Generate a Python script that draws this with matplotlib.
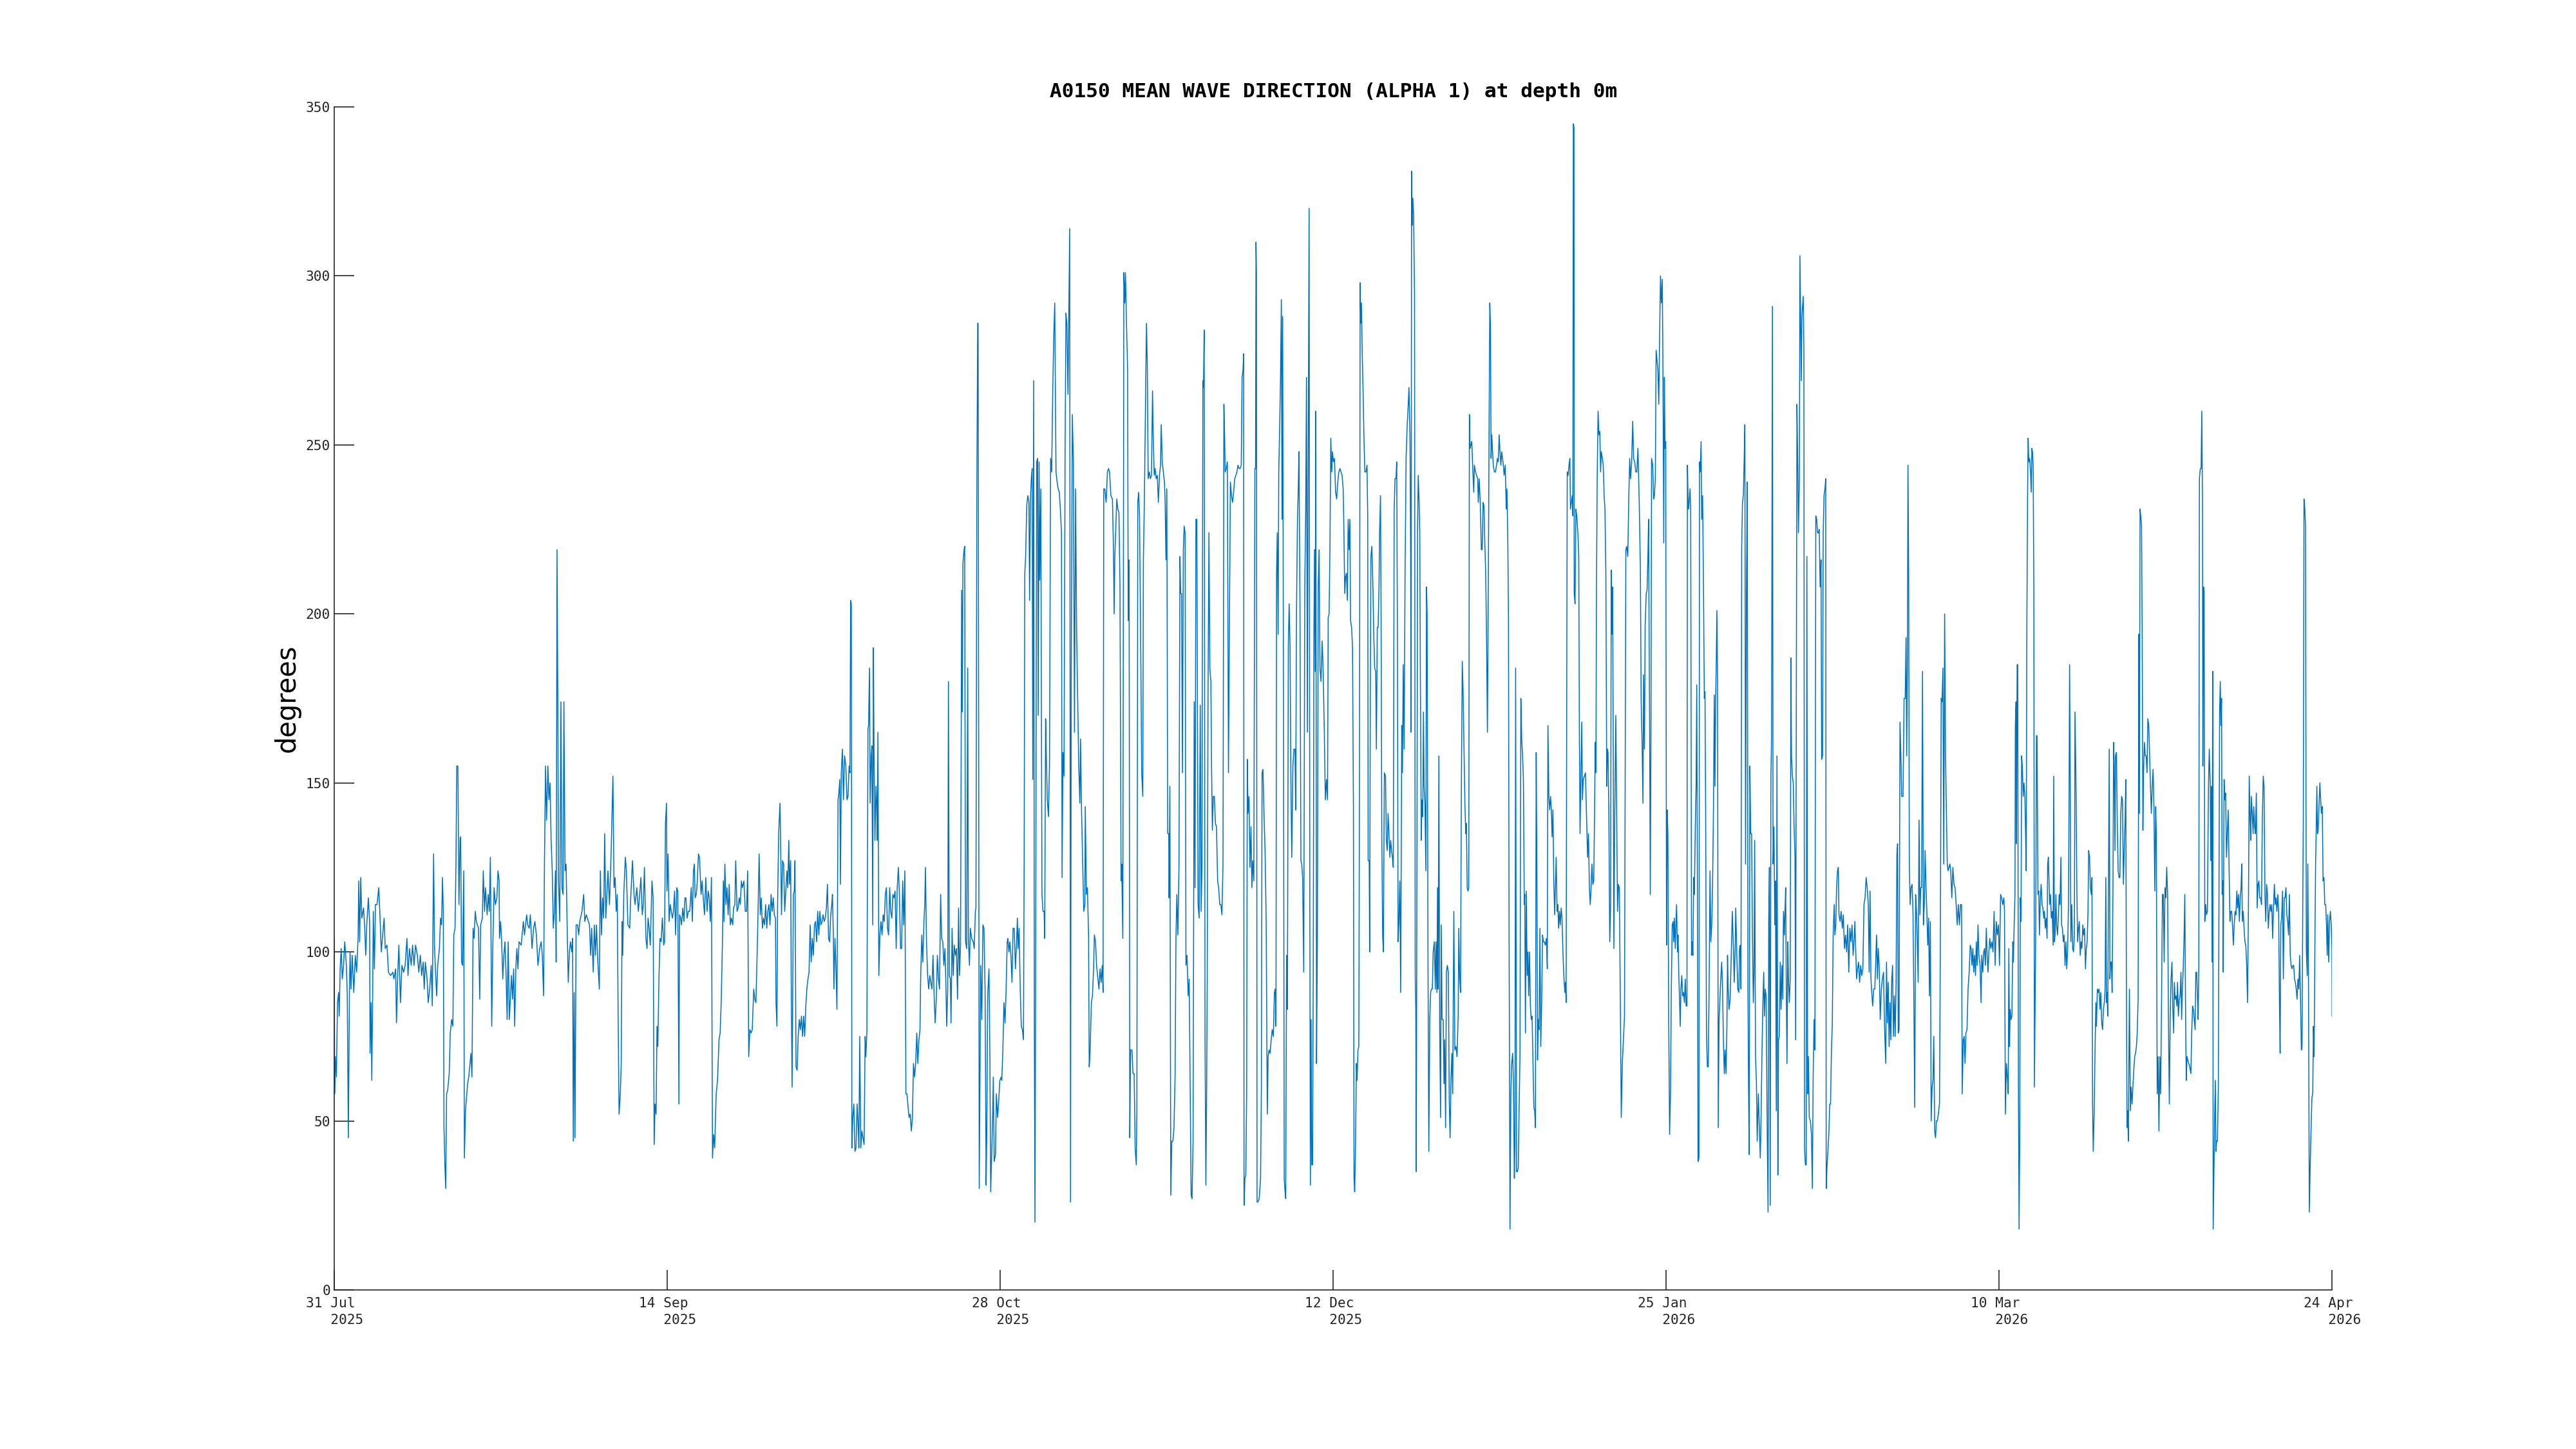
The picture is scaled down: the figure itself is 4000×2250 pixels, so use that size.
import numpy as np
import matplotlib
matplotlib.use("Agg")
import matplotlib.pyplot as plt

# time in days since the first sample, mean wave direction in degrees
seg1 = [(0.00,104),(0.03,58),(0.13,69),(0.27,63),(0.42,85),(0.56,88),(0.65,81),(0.77,95),(0.91,101),(1.06,92),(1.23,96),(1.38,103),(1.58,97),(1.72,88),(1.87,45),(2.01,88),(2.10,100),(2.22,89),(2.39,99),(2.59,88),(2.80,99),(2.97,94),(3.17,104),(3.26,121),(3.38,103),(3.52,122),(3.67,110),(3.90,113),(4.04,108),(4.19,99),(4.33,108),(4.54,116),(4.71,109),(4.77,70),(4.91,85),(5.00,62),(5.12,88),(5.20,112),(5.35,95),(5.49,114),(5.70,114),(5.93,119),(6.07,112),(6.27,100),(6.45,105),(6.65,110),(6.80,101),(7.03,102),(7.23,94),(7.52,93),(7.81,94),(7.96,92),(8.19,95),(8.30,79),(8.48,94),(8.62,102),(8.83,85),(9.03,96),(9.26,94),(9.46,96),(9.70,104),(9.84,93),(10.04,101),(10.27,96),(10.45,102),(10.65,96),(10.85,102),(11.09,99),(11.29,94),(11.49,99),(11.67,93),(11.87,97),(12.01,89),(12.16,97),(12.39,92),(12.54,85),(12.74,89),(12.94,96),(13.09,84),(13.26,129),(13.38,102),(13.52,94),(13.67,87),(13.81,96),(14.04,101),(14.19,110),(14.33,108),(14.45,122),(14.56,112),(14.65,48),(14.77,37),(14.88,30),(15.00,58),(15.14,59),(15.35,64),(15.49,76),(15.67,80),(15.84,78),(15.96,105),(16.13,107),(16.25,126),(16.36,155),(16.51,155),(16.65,114),(16.80,133),(16.88,134),(17.00,97),(17.14,96),(17.29,124),(17.38,39),(17.52,53),(17.81,61),(17.96,63),(18.25,70),(18.39,63),(18.54,107),(18.68,104),(18.83,112),(18.97,109),(19.26,107),(19.43,86),(19.55,108),(19.78,110),(19.90,124),(20.07,112),(20.19,119),(20.42,111),(20.56,117),(20.71,112),(20.85,128),(21.03,78),(21.17,101),(21.35,119),(21.52,114),(21.72,116),(21.87,124),(22.02,121)]
seg2 = [(22.07,104),(22.22,109),(22.36,103),(22.51,92),(22.65,99),(22.80,103),(22.94,94),(23.09,80),(23.23,103),(23.38,80),(23.52,86),(23.67,93),(23.81,86),(23.96,95),(24.10,78),(24.25,95),(24.39,101),(24.54,95),(24.68,103),(24.97,102),(25.26,109),(25.41,105),(25.70,111),(25.84,108),(26.05,107),(26.19,111),(26.42,101),(26.63,107),(26.80,109),(27.00,105),(27.21,96),(27.44,101),(27.64,103),(27.79,99),(27.96,87),(28.08,126),(28.22,155),(28.36,139),(28.54,155),(28.68,145),(28.83,150),(28.97,133),(29.12,124),(29.26,107),(29.41,112),(29.55,124),(29.64,97),(29.76,219),(29.87,171),(29.96,121),(30.13,109),(30.28,174),(30.42,119),(30.57,117),(30.68,174),(30.83,124),(30.97,126),(31.15,103),(31.26,91),(31.41,100),(31.55,103),(31.73,100),(31.84,104),(31.93,44),(32.05,88),(32.16,45),(32.31,108),(32.51,108),(32.65,105),(32.80,109),(33.09,112),(33.32,117),(33.47,109),(33.67,111),(33.96,109),(34.10,108),(34.25,99),(34.39,107),(34.60,94),(34.74,108),(34.89,99),(35.03,108),(35.21,97),(35.41,89),(35.55,124),(35.70,105),(35.84,116),(35.99,110),(36.13,135),(36.28,110),(36.57,124),(36.77,114),(37.00,130),(37.23,152),(37.38,119),(37.52,122),(37.67,112),(37.81,117),(37.93,80),(38.05,52),(38.22,58),(38.34,67),(38.45,109),(38.54,99),(38.68,117),(38.89,128),(39.03,124),(39.23,108),(39.47,107),(39.61,116),(39.84,127),(40.05,117),(40.19,114),(40.42,119),(40.63,112),(40.77,116),(40.97,122),(41.15,111),(41.29,114),(41.44,125),(41.64,104),(41.79,101),(41.93,110),(42.07,107),(42.22,102),(42.45,121),(42.60,116),(42.74,43),(42.86,55),(43.00,52),(43.12,78),(43.23,72),(43.38,92),(43.52,104),(43.67,103),(43.84,110),(44.02,102),(44.13,103),(44.25,138),(44.39,144)]
seg3 = [(44.45,118),(44.60,129),(44.74,109),(44.89,114),(45.03,112),(45.18,110),(45.32,112),(45.47,118),(45.61,105),(45.76,119),(45.90,118),(46.05,55),(46.14,111),(46.28,110),(46.40,108),(46.57,113),(46.72,109),(46.86,116),(46.98,116),(47.15,110),(47.30,112),(47.50,112),(47.70,119),(47.85,109),(47.99,124),(48.11,126),(48.22,116),(48.37,117),(48.51,121),(48.66,129),(48.80,128),(49.01,117),(49.15,121),(49.30,116),(49.47,111),(49.64,122),(49.82,112),(49.96,118),(50.11,116),(50.25,109),(50.40,122),(50.54,39),(50.69,46),(50.83,42),(51.03,58),(51.21,62),(51.41,74),(51.56,76),(51.70,85),(51.85,101),(51.99,121),(52.08,109),(52.19,126),(52.34,114),(52.48,119),(52.63,111),(52.77,120),(52.92,108),(53.06,110),(53.24,108),(53.35,113),(53.53,114),(53.64,127),(53.82,112),(53.96,113),(54.11,116),(54.25,114),(54.40,121),(54.54,119),(54.74,121),(54.92,112),(55.09,112),(55.24,124),(55.38,69),(55.53,77),(55.70,76),(55.85,77),(56.05,89),(56.19,86),(56.34,85),(56.48,97),(56.63,112),(56.77,129),(56.92,111),(57.06,116),(57.21,107),(57.35,110),(57.50,108),(57.64,114),(57.79,107),(57.93,112),(58.08,114),(58.22,108),(58.37,117),(58.51,112),(58.66,116),(58.80,111),(58.95,110),(59.03,85),(59.15,78),(59.24,114),(59.38,135),(59.56,144),(59.67,128),(59.76,111),(59.90,127),(60.05,126),(60.19,112),(60.31,117),(60.48,124),(60.60,119),(60.74,133),(60.83,120),(60.98,127),(61.06,92),(61.18,60),(61.35,117),(61.47,118),(61.56,127),(61.70,66),(61.85,65),(61.99,75),(62.14,80),(62.28,77),(62.43,81),(62.57,75),(62.72,81),(62.86,75),(63.01,84),(63.15,89),(63.30,92),(63.44,94),(63.59,108),(63.73,97),(63.88,104),(64.02,99),(64.17,108),(64.31,109),(64.46,103),(64.60,112),(64.75,105),(64.89,112),(65.03,108),(65.18,109),(65.32,111),(65.47,109),(65.61,110),(65.76,113),(65.90,120),(66.05,104),(66.19,103),(66.34,111),(66.48,114),(66.57,117),(66.69,105),(66.77,89)]
seg4 = [(66.91,104),(67.03,96),(67.17,83),(67.32,145),(67.43,147),(67.55,151),(67.64,120),(67.75,153),(67.90,160),(68.04,145),(68.19,158),(68.36,155),(68.51,145),(68.65,146),(68.80,155),(68.91,153),(69.00,204),(69.09,203),(69.17,42),(69.29,51),(69.43,55),(69.58,41),(69.72,42),(69.87,55),(70.01,48),(70.10,42),(70.22,75),(70.36,42),(70.51,47),(70.65,45),(70.80,43),(70.94,75),(71.03,69),(71.17,76),(71.32,166),(71.40,167),(71.52,184),(71.61,144),(71.75,158),(71.84,161),(71.96,108),(72.04,190),(72.13,158),(72.25,133),(72.39,149),(72.48,144),(72.56,133),(72.65,165),(72.77,93),(72.91,105),(73.06,109),(73.20,105),(73.35,111),(73.49,109),(73.64,117),(73.78,119),(73.93,107),(74.07,105),(74.22,119),(74.36,112),(74.51,110),(74.65,117),(74.80,116),(74.94,118),(75.09,101),(75.23,119),(75.38,125),(75.52,117),(75.67,101),(75.81,101),(75.96,121),(76.10,108),(76.25,124),(76.39,58),(76.53,58),(76.68,54),(76.82,51),(76.97,52),(77.11,47),(77.26,51),(77.40,67),(77.55,63),(77.69,67),(77.84,76),(77.98,67),(78.13,74),(78.27,77),(78.36,92),(78.51,105),(78.65,97),(78.80,109),(78.91,114),(79.00,125),(79.14,103),(79.29,93),(79.43,89),(79.58,93),(79.72,91),(79.87,89),(80.01,99),(80.16,87),(80.30,79),(80.45,86),(80.59,99),(80.74,92),(80.88,89),(81.03,117),(81.17,104),(81.32,103),(81.46,96),(81.61,101),(81.75,89),(81.84,78),(81.98,89),(82.07,180),(82.19,93),(82.33,92),(82.42,79),(82.56,107),(82.71,93),(82.85,102),(83.00,99),(83.14,101),(83.29,86),(83.43,113),(83.55,93),(83.69,102),(83.84,207),(83.93,171),(84.01,215),(84.16,219),(84.24,220),(84.36,103),(84.51,101),(84.65,184),(84.74,104),(84.88,96),(85.00,107),(85.17,104),(85.38,103),(85.52,101),(85.67,112),(85.75,113),(85.87,236),(85.98,286),(86.04,286),(86.19,30),(86.30,67),(86.39,96),(86.53,80),(86.68,108),(86.82,107),(86.97,89),(87.11,31),(87.20,47),(87.32,87),(87.49,95),(87.61,70),(87.72,29),(87.84,39),(87.98,51),(88.07,63),(88.19,38),(88.36,40),(88.48,58),(88.65,51),(88.77,55),(88.94,62),(89.14,63)]
seg5 = [(89.20,62),(89.35,71),(89.49,85),(89.64,79),(89.78,89),(89.93,103),(90.02,104),(90.16,100),(90.28,103),(90.42,99),(90.57,91),(90.71,107),(90.86,107),(91.03,95),(91.18,103),(91.29,110),(91.38,101),(91.52,107),(91.67,89),(91.81,78),(91.96,77),(92.10,74),(92.19,126),(92.28,212),(92.39,217),(92.54,232),(92.68,235),(92.83,233),(92.92,204),(93.03,234),(93.15,240),(93.26,243),(93.35,151),(93.47,269),(93.55,80),(93.64,20),(93.76,126),(93.87,245),(93.99,246),(94.07,170),(94.19,245),(94.28,210),(94.42,237),(94.57,117),(94.71,112),(94.86,112),(94.94,104),(95.06,169),(95.15,158),(95.29,145),(95.44,140),(95.58,155),(95.73,246),(95.87,242),(96.02,267),(96.16,283),(96.28,292),(96.45,242),(96.60,239),(96.74,237),(96.89,236),(97.03,231),(97.18,224),(97.26,122),(97.38,159),(97.52,152),(97.67,251),(97.78,289),(97.90,286),(98.05,265),(98.19,295),(98.28,314),(98.39,26),(98.48,180),(98.63,259),(98.77,245),(98.92,165),(99.06,237),(99.21,194),(99.35,174),(99.49,155),(99.64,144),(99.73,163),(99.87,141),(100.02,126),(100.16,112),(100.31,114),(100.36,143),(100.51,117),(100.65,119),(100.80,105),(100.89,66),(101.00,70),(101.18,85),(101.32,87),(101.47,95),(101.58,105),(101.73,103),(101.87,96),(102.05,92),(102.19,89),(102.34,95),(102.48,91),(102.63,96),(102.74,88),(102.83,237),(102.97,237),(103.15,233),(103.32,242),(103.47,243),(103.61,242),(103.78,235),(103.99,234),(104.13,219),(104.22,200),(104.31,217),(104.42,224),(104.57,234),(104.71,231),(104.86,230),(105.00,208),(105.15,121),(105.23,126),(105.38,104),(105.52,301),(105.64,292),(105.73,301),(105.87,286),(106.02,272),(106.10,198),(106.22,216),(106.31,45),(106.42,71),(106.60,71),(106.74,64),(106.89,64),(107.03,42),(107.18,37),(107.26,53),(107.38,233),(107.49,236),(107.61,229),(107.76,194),(107.90,153),(108.05,146),(108.13,216),(108.25,232),(108.39,258),(108.54,286),(108.65,274),(108.77,240),(108.92,242),(109.06,240),(109.21,241),(109.35,266),(109.44,253),(109.58,241),(109.70,243),(109.84,240),(109.99,241),(110.13,233),(110.28,241),(110.42,244),(110.51,256),(110.65,245),(110.80,242),(110.94,239),(111.03,234),(111.15,216),(111.26,237),(111.38,135),(111.52,135)]
seg6 = [(111.56,116),(111.67,149),(111.79,28),(111.93,44),(112.08,44),(112.22,48),(112.37,64),(112.48,104),(112.60,117),(112.74,105),(112.89,126),(113.01,217),(113.12,206),(113.24,206),(113.35,153),(113.47,219),(113.58,226),(113.70,224),(113.82,96),(113.96,99),(114.11,87),(114.25,92),(114.40,55),(114.51,28),(114.63,27),(114.77,44),(114.92,174),(115.03,119),(115.15,228),(115.27,228),(115.44,114),(115.58,110),(115.73,173),(115.85,112),(115.96,126),(116.08,269),(116.16,267),(116.25,284),(116.37,74),(116.48,31),(116.57,55),(116.66,92),(116.77,177),(116.89,224),(117.01,184),(117.15,180),(117.24,155),(117.35,136),(117.47,146),(117.61,146),(117.76,138),(117.90,137),(118.05,121),(118.19,119),(118.34,114),(118.48,114),(118.63,111),(118.69,118),(118.77,126),(118.89,262),(118.98,253),(119.06,242),(119.21,243),(119.35,245),(119.50,153),(119.61,192),(119.76,239),(119.90,235),(120.05,233),(120.19,236),(120.34,240),(120.48,241),(120.63,242),(120.77,244),(120.92,243),(121.06,243),(121.21,244),(121.32,270),(121.44,272),(121.53,277),(121.58,25),(121.70,33),(121.82,34),(121.93,58),(122.02,157),(122.11,141),(122.25,146),(122.37,125),(122.51,137),(122.63,119),(122.74,127),(122.89,121),(123.03,243),(123.12,243),(123.18,310),(123.24,301),(123.32,26),(123.44,26),(123.61,27),(123.79,33),(123.90,60),(123.99,153),(124.11,154),(124.25,141),(124.40,129),(124.54,109),(124.69,52),(124.80,69),(124.92,71),(125.06,70),(125.21,74),(125.35,77),(125.50,75),(125.64,88),(125.76,89),(125.85,78),(125.93,212),(126.02,224),(126.14,194),(126.22,242),(126.34,255),(126.45,269),(126.57,293),(126.66,228),(126.74,288),(126.86,167),(126.95,33),(127.03,30),(127.15,27),(127.27,99),(127.38,83),(127.50,191),(127.61,203),(127.73,190),(127.85,149),(127.96,128),(128.11,155),(128.25,160),(128.40,160),(128.48,142),(128.60,202),(128.71,226),(128.83,237),(128.92,248),(129.06,202),(129.18,127),(129.29,126),(129.41,122),(129.56,94),(129.70,208),(129.82,230),(129.93,270),(130.05,165),(130.14,235),(130.28,320),(130.37,116),(130.45,31),(130.54,80),(130.63,37),(130.74,37),(130.83,92),(130.92,194),(131.00,219),(131.09,183),(131.18,260),(131.27,67),(131.38,103),(131.50,208),(131.61,219),(131.73,184),(131.87,180),(132.02,192),(132.16,183),(132.31,165),(132.45,145),(132.60,151),(132.74,145),(132.83,199),(132.95,200),(133.06,219),(133.18,252),(133.30,242),(133.41,248),(133.53,245),(133.67,246),(133.82,236)]
seg7 = [(133.96,234),(134.11,239),(134.25,242),(134.40,243),(134.54,242),(134.69,241),(134.83,237),(134.92,226),(135.04,206),(135.15,211),(135.27,212),(135.39,204),(135.50,228),(135.62,219),(135.73,228),(135.82,198),(135.96,196),(136.08,190),(136.20,144),(136.28,33),(136.37,29),(136.49,44),(136.60,67),(136.69,62),(136.81,71),(136.92,72),(137.01,149),(137.10,298),(137.18,286),(137.27,292),(137.39,276),(137.50,265),(137.62,251),(137.73,242),(137.88,242),(138.02,244),(138.11,229),(138.17,127),(138.31,127),(138.37,100),(138.46,176),(138.54,217),(138.66,220),(138.81,208),(138.92,194),(139.04,184),(139.18,183),(139.27,160),(139.39,196),(139.50,196),(139.62,208),(139.70,224),(139.82,235),(139.91,194),(139.99,135),(140.11,105),(140.20,100),(140.34,153),(140.49,152),(140.60,133),(140.72,130),(140.83,141),(140.95,135),(141.07,128),(141.18,133),(141.30,130),(141.41,128),(141.53,125),(141.65,231),(141.76,240),(141.88,240),(141.99,245),(142.08,194),(142.17,103),(142.28,109),(142.40,121),(142.52,88),(142.66,167),(142.75,153),(142.86,185),(142.98,160),(143.10,211),(143.24,246),(143.39,256),(143.53,262),(143.62,267),(143.76,253),(143.85,217),(143.91,165),(143.97,331),(144.05,315),(144.14,323),(144.25,318),(144.37,294),(144.46,93),(144.54,83),(144.60,35),(144.69,135),(144.78,226),(144.86,241),(144.98,233),(145.07,224),(145.15,180),(145.27,133),(145.36,145),(145.47,140),(145.56,171),(145.65,149),(145.76,144),(145.88,124),(145.97,208),(146.05,200),(146.17,96),(146.28,41),(146.40,80),(146.52,88),(146.63,89),(146.75,89),(146.86,100),(147.01,103),(147.15,89),(147.24,103),(147.36,88),(147.44,119),(147.53,89),(147.62,158),(147.73,78),(147.85,51),(147.94,108),(148.05,80),(148.20,80),(148.31,61),(148.40,74),(148.52,48),(148.63,94),(148.75,96),(148.89,94),(149.01,56),(149.12,45),(149.24,62),(149.36,70),(149.47,58),(149.62,112),(149.76,71),(149.91,72),(150.05,69),(150.20,81),(150.28,107),(150.40,92),(150.52,88),(150.63,149),(150.75,186),(150.86,177),(150.98,160),(151.10,144),(151.21,135),(151.30,138),(151.41,119),(151.50,118),(151.62,119),(151.70,259),(151.79,249),(151.91,250),(152.02,251),(152.17,242),(152.28,236),(152.37,244),(152.52,242),(152.66,241),(152.81,240),(152.89,233),(153.01,240),(153.15,233),(153.30,219),(153.41,219),(153.53,233),(153.65,232),(153.76,221),(153.88,212),(153.99,194),(154.11,165),(154.23,208),(154.34,258),(154.43,292),(154.52,285),(154.60,246),(154.69,253),(154.78,249),(154.89,244),(155.04,242),(155.18,242),(155.33,244),(155.44,246),(155.56,245),(155.68,253),(155.79,248),(155.91,244),(156.02,248),(156.14,246),(156.28,243)]
seg8 = [(156.34,241),(156.49,244),(156.63,231),(156.72,237),(156.84,221),(156.92,200),(157.01,103),(157.13,18),(157.24,58),(157.36,67),(157.48,70),(157.59,62),(157.71,33),(157.79,44),(157.88,184),(158.00,35),(158.11,35),(158.23,36),(158.34,53),(158.46,69),(158.58,175),(158.69,163),(158.81,158),(158.92,151),(159.04,114),(159.10,117),(159.19,76),(159.30,118),(159.42,93),(159.53,100),(159.62,87),(159.74,100),(159.85,84),(159.97,80),(160.08,81),(160.20,67),(160.32,54),(160.43,53),(160.52,48),(160.63,159),(160.72,126),(160.81,68),(160.90,80),(161.01,77),(161.13,107),(161.24,72),(161.36,85),(161.48,105),(161.59,103),(161.71,103),(161.85,102),(162.00,104),(162.11,95),(162.20,167),(162.32,146),(162.43,142),(162.55,146),(162.66,142),(162.75,134),(162.87,142),(162.98,121),(163.10,111),(163.19,119),(163.30,128),(163.42,112),(163.53,114),(163.62,107),(163.74,112),(163.85,108),(163.97,113),(164.08,110),(164.20,100),(164.32,93),(164.46,88),(164.55,91),(164.63,85),(164.72,187),(164.78,242),(164.90,241),(165.01,244),(165.13,246),(165.21,231),(165.33,233),(165.45,235),(165.53,229),(165.59,345),(165.68,344),(165.71,206),(165.82,203),(165.94,231),(166.05,229),(166.20,224),(166.32,217),(166.40,165),(166.49,135),(166.61,153),(166.72,168),(166.81,145),(166.92,151),(167.07,152),(167.21,153),(167.36,140),(167.50,128),(167.62,135),(167.74,119),(167.85,114),(167.97,119),(168.08,126),(168.20,120),(168.32,121),(168.43,141),(168.52,162),(168.61,153),(168.69,208),(168.78,240),(168.90,260),(169.01,253),(169.13,254),(169.24,242),(169.33,248),(169.48,246),(169.59,244),(169.71,235),(169.82,231),(169.94,212),(170.06,149),(170.14,160),(170.23,159),(170.34,141),(170.46,103),(170.58,114),(170.66,213),(170.75,194),(170.84,208),(170.92,167),(171.01,101),(171.13,141),(171.27,170),(171.39,140),(171.50,112),(171.62,120),(171.74,119),(171.85,92),(172.00,51),(172.14,67),(172.29,74),(172.43,81),(172.52,153),(172.61,219),(172.72,220),(172.87,217),(173.01,235),(173.13,246),(173.24,240),(173.39,245),(173.53,257),(173.65,246),(173.79,245),(173.94,242),(174.08,242),(174.23,249),(174.40,233),(174.55,214),(174.66,174),(174.78,162),(174.90,144),(174.98,182),(175.10,160),(175.19,196),(175.33,206),(175.45,207),(175.56,217),(175.65,228),(175.71,199),(175.79,167),(175.88,117),(175.97,167),(176.05,246),(176.20,244),(176.32,234),(176.43,235),(176.55,240),(176.66,278),(176.78,275),(176.90,272),(177.01,262),(177.13,283),(177.24,300),(177.36,292),(177.48,299),(177.56,276),(177.68,221),(177.76,270),(177.85,249),(177.94,251),(178.05,102),(178.14,142),(178.23,135),(178.34,80),(178.46,46),(178.58,58),(178.69,89)]
seg9 = [(178.81,108),(178.93,109),(179.01,103),(179.10,110),(179.22,101),(179.30,108),(179.39,114),(179.51,100),(179.59,105),(179.68,94),(179.80,85),(179.88,78),(179.97,89),(180.09,93),(180.20,87),(180.32,88),(180.44,85),(180.55,92),(180.67,84),(180.78,84),(180.84,244),(180.96,231),(181.07,233),(181.19,237),(181.28,231),(181.39,99),(181.48,103),(181.57,99),(181.68,122),(181.77,117),(181.88,135),(182.00,149),(182.09,179),(182.17,126),(182.26,38),(182.38,39),(182.46,245),(182.55,242),(182.67,251),(182.75,228),(182.87,235),(182.99,208),(183.10,175),(183.19,177),(183.28,140),(183.39,75),(183.51,66),(183.62,66),(183.74,89),(183.86,124),(183.97,103),(184.09,108),(184.20,119),(184.32,142),(184.43,176),(184.52,149),(184.61,174),(184.70,186),(184.78,201),(184.87,180),(184.96,48),(185.07,80),(185.19,86),(185.30,92),(185.42,97),(185.54,89),(185.65,74),(185.77,64),(185.88,71),(186.00,64),(186.12,78),(186.20,99),(186.29,89),(186.41,83),(186.55,86),(186.70,99),(186.84,112),(186.99,101),(187.10,91),(187.22,101),(187.30,113),(187.42,101),(187.57,89),(187.71,88),(187.80,101),(187.91,102),(188.00,89),(188.09,219),(188.20,233),(188.32,235),(188.43,246),(188.52,256),(188.61,126),(188.73,206),(188.84,239),(188.93,89),(189.01,61),(189.10,40),(189.19,155),(189.30,135),(189.42,135),(189.54,103),(189.65,85),(189.74,94),(189.83,133),(189.94,69),(190.06,62),(190.17,44),(190.32,58),(190.46,48),(190.58,39),(190.70,53),(190.81,71),(190.93,85),(191.04,94),(191.13,81),(191.25,89),(191.36,87),(191.51,46),(191.62,23),(191.71,110),(191.80,125),(191.91,25),(192.00,152),(192.09,164),(192.20,291),(192.29,126),(192.41,137),(192.52,108),(192.61,121),(192.72,53),(192.81,158),(192.93,34),(193.01,74),(193.13,75),(193.25,97),(193.36,83),(193.48,96),(193.59,86),(193.68,112),(193.80,105),(193.88,112),(193.97,119),(194.06,89),(194.15,67),(194.26,103),(194.35,92),(194.46,85),(194.58,92),(194.67,187),(194.75,158),(194.87,152),(194.99,150),(195.10,137),(195.22,128),(195.30,74),(195.39,165),(195.48,262),(195.59,244),(195.68,224),(195.80,240),(195.88,306),(195.97,288),(196.06,269),(196.14,288),(196.23,291),(196.32,294),(196.41,278),(196.49,42),(196.61,37),(196.72,37),(196.81,217),(196.90,58),(197.01,69),(197.13,51),(197.28,50),(197.42,46),(197.54,30),(197.65,64),(197.77,80),(197.88,71),(198.00,229),(198.12,228),(198.23,224),(198.35,224),(198.46,225),(198.58,208),(198.70,216),(198.78,157),(198.90,158),(198.99,224),(199.10,235),(199.22,237),(199.33,240),(199.39,30),(199.51,37),(199.62,41),(199.74,46),(199.86,55),(199.97,55),(200.09,71),(200.20,78),(200.32,105),(200.46,114),(200.55,105),(200.67,108),(200.78,119),(200.90,124),(201.01,125)]
seg10 = [(201.10,111),(201.25,109),(201.39,112),(201.54,107),(201.68,111),(201.83,101),(201.97,105),(202.12,100),(202.26,108),(202.41,94),(202.55,107),(202.70,103),(202.84,108),(202.99,99),(203.13,104),(203.22,109),(203.34,100),(203.45,92),(203.57,95),(203.71,97),(203.86,91),(204.00,96),(204.15,93),(204.29,95),(204.44,114),(204.58,116),(204.73,122),(204.87,119),(205.02,114),(205.13,94),(205.25,118),(205.37,92),(205.48,88),(205.60,84),(205.74,89),(205.89,89),(206.03,99),(206.12,105),(206.24,92),(206.35,101),(206.47,96),(206.61,80),(206.76,89),(206.90,92),(207.05,94),(207.19,78),(207.34,67),(207.45,97),(207.57,79),(207.68,91),(207.80,72),(207.92,85),(208.03,74),(208.15,92),(208.26,96),(208.38,75),(208.50,87),(208.61,75),(208.73,91),(208.84,129),(208.93,132),(209.02,76),(209.13,77),(209.25,168),(209.37,158),(209.48,146),(209.66,146),(209.80,175),(209.95,175),(210.06,193),(210.15,158),(210.24,184),(210.32,244),(210.41,211),(210.50,126),(210.61,114),(210.73,119),(210.87,120),(210.99,112),(211.10,87),(211.22,54),(211.34,117),(211.45,112),(211.57,103),(211.68,91),(211.80,139),(211.92,111),(212.03,119),(212.15,119),(212.26,183),(212.38,108),(212.50,114),(212.61,130),(212.73,119),(212.84,112),(212.96,102),(213.08,110),(213.19,87),(213.31,109),(213.42,50),(213.54,60),(213.66,62),(213.77,75),(213.89,47),(214.00,45),(214.12,50),(214.24,50),(214.38,52),(214.53,55),(214.64,99),(214.76,175),(214.87,174),(214.99,184),(215.10,126),(215.22,200),(215.34,158),(215.45,142),(215.57,126),(215.68,124),(215.80,125),(215.92,126),(216.03,124),(216.18,116),(216.32,125),(216.47,120),(216.61,119),(216.76,114),(216.90,108),(217.05,114),(217.19,108),(217.34,114),(217.48,114),(217.57,58),(217.71,74),(217.83,75),(217.95,67),(218.06,76),(218.21,77),(218.35,89),(218.50,94),(218.64,102),(218.76,101),(218.87,96),(218.99,101),(219.10,94),(219.22,99),(219.34,93),(219.45,103),(219.57,96),(219.68,108),(219.80,99),(219.95,96),(220.09,85),(220.18,99),(220.32,94),(220.44,100),(220.55,101),(220.67,96),(220.79,107),(220.90,99),(221.02,94),(221.13,100),(221.25,104),(221.39,101),(221.54,103),(221.68,100),(221.83,112),(221.97,96),(222.12,109),(222.26,105),(222.41,108),(222.55,96),(222.70,117),(222.84,116),(222.99,114),(223.13,116),(223.22,112),(223.34,52)]
seg11 = [(223.48,67),(223.63,62),(223.72,58),(223.80,101),(223.89,72),(223.98,83),(224.09,80),(224.21,81),(224.33,103),(224.41,97),(224.50,107),(224.62,117),(224.67,167),(224.76,174),(224.82,132),(224.91,185),(224.99,185),(225.08,60),(225.17,18),(225.25,43),(225.34,116),(225.43,109),(225.51,158),(225.60,155),(225.72,146),(225.83,150),(225.95,146),(226.04,135),(226.12,124),(226.21,196),(226.30,234),(226.38,252),(226.47,245),(226.59,246),(226.70,242),(226.79,236),(226.88,249),(226.96,248),(227.05,244),(227.14,208),(227.22,60),(227.31,83),(227.40,108),(227.49,164),(227.57,164),(227.69,117),(227.80,118),(227.89,105),(228.01,116),(228.12,120),(228.24,114),(228.35,113),(228.47,110),(228.56,112),(228.67,107),(228.79,110),(228.91,104),(228.99,126),(229.08,128),(229.17,121),(229.25,114),(229.37,117),(229.48,110),(229.60,112),(229.72,102),(229.80,152),(229.89,103),(229.98,105),(230.09,117),(230.18,108),(230.30,105),(230.41,110),(230.53,117),(230.64,114),(230.76,128),(230.85,108),(230.96,107),(231.08,103),(231.19,105),(231.31,96),(231.43,103),(231.54,95),(231.66,101),(231.77,114),(231.86,149),(231.92,185),(232.01,149),(232.09,103),(232.21,114),(232.33,101),(232.44,100),(232.56,105),(232.64,171),(232.76,153),(232.88,121),(232.99,103),(233.11,107),(233.22,109),(233.34,99),(233.46,103),(233.57,101),(233.69,108),(233.80,105),(233.92,107),(234.04,95),(234.15,101),(234.27,103),(234.38,112),(234.47,130),(234.59,128),(234.70,119),(234.82,117),(234.91,122),(234.99,55),(235.08,41),(235.19,51),(235.31,69),(235.43,85),(235.51,78),(235.63,89),(235.75,88),(235.86,89),(235.98,83),(236.09,88),(236.21,79),(236.33,77),(236.44,83),(236.56,85),(236.67,89),(236.76,122),(236.85,85),(236.93,88),(237.02,81),(237.11,117),(237.22,160),(237.31,92),(237.40,97),(237.51,97),(237.60,88),(237.72,119),(237.80,162),(237.89,155),(237.98,130),(238.06,158),(238.18,159),(238.30,137),(238.41,124),(238.53,122),(238.64,122),(238.76,141),(238.88,146),(238.99,145),(239.11,120),(239.22,130),(239.34,139),(239.43,151),(239.51,92),(239.60,48),(239.69,53),(239.77,44),(239.92,89),(240.04,53),(240.15,60),(240.27,55),(240.38,60),(240.50,65),(240.62,69),(240.73,70),(240.85,72),(240.96,76),(241.08,86),(241.17,194),(241.25,141),(241.34,231),(241.43,229),(241.54,226),(241.63,190),(241.72,136),(241.80,153),(241.92,162),(242.04,158),(242.15,158),(242.27,153),(242.38,169),(242.50,167),(242.62,158),(242.73,149),(242.85,141),(242.96,149),(243.08,154),(243.20,142),(243.31,118),(243.43,143),(243.51,135),(243.63,58),(243.75,69),(243.86,47),(243.98,69),(244.09,58),(244.21,85),(244.33,117),(244.44,117),(244.56,97),(244.67,119),(244.79,116),(244.90,125),(245.02,117),(245.14,78),(245.25,55),(245.37,81),(245.48,92),(245.60,97),(245.72,83)]
seg12 = [(245.83,76),(245.92,91),(246.03,86),(246.15,87),(246.26,84),(246.35,91),(246.46,81),(246.58,86),(246.69,87),(246.81,94),(246.89,80),(246.98,88),(247.09,94),(247.21,103),(247.32,117),(247.44,76),(247.52,62),(247.61,69),(247.72,68),(247.84,67),(247.98,66),(248.13,64),(248.24,76),(248.36,84),(248.47,83),(248.58,80),(248.70,77),(248.79,94),(248.90,94),(249.02,86),(249.10,80),(249.19,96),(249.27,240),(249.39,243),(249.50,243),(249.59,260),(249.68,233),(249.73,155),(249.82,208),(249.90,207),(249.99,109),(250.11,114),(250.22,111),(250.34,112),(250.48,149),(250.59,160),(250.71,150),(250.79,127),(250.88,149),(250.97,97),(251.05,183),(251.11,18),(251.20,33),(251.31,51),(251.40,62),(251.48,41),(251.57,44),(251.68,44),(251.80,60),(251.88,114),(251.97,171),(252.06,180),(252.14,167),(252.23,175),(252.31,117),(252.40,121),(252.46,94),(252.57,151),(252.66,145),(252.77,147),(252.89,128),(253.00,135),(253.12,142),(253.23,126),(253.35,109),(253.46,112),(253.58,112),(253.69,108),(253.81,102),(253.92,108),(254.04,112),(254.15,111),(254.27,118),(254.38,113),(254.50,117),(254.61,109),(254.73,116),(254.84,119),(254.93,126),(255.01,109),(255.13,112),(255.24,107),(255.36,103),(255.47,102),(255.59,96),(255.70,85),(255.82,112),(255.93,152),(256.05,139),(256.13,133),(256.22,146),(256.33,141),(256.45,135),(256.53,143),(256.65,137),(256.76,135),(256.88,147),(256.99,113),(257.11,120),(257.22,121),(257.34,116),(257.45,116),(257.57,114),(257.68,139),(257.80,152),(257.91,149),(258.03,117),(258.14,109),(258.25,120),(258.37,117),(258.48,107),(258.60,112),(258.71,114),(258.83,112),(258.94,114),(259.06,104),(259.17,113),(259.29,120),(259.40,114),(259.52,116),(259.63,112),(259.75,117),(259.86,112),(259.98,83),(260.06,70),(260.15,108),(260.26,110),(260.38,118),(260.49,92),(260.61,116),(260.72,116),(260.84,119),(260.95,111),(261.07,109),(261.18,105),(261.30,117),(261.41,99),(261.53,96),(261.64,95),(261.76,96),(261.87,96),(261.98,92),(262.10,91),(262.21,89),(262.33,86),(262.44,92),(262.56,89),(262.67,99),(262.79,85),(262.90,71),(262.99,72),(263.08,112),(263.16,141),(263.25,234),(263.36,231),(263.45,226),(263.56,101),(263.68,93),(263.76,126),(263.85,92),(263.96,23),(264.08,37),(264.19,47),(264.31,57),(264.42,58),(264.51,78),(264.60,69),(264.71,103),(264.80,126),(264.88,136),(264.97,149),(265.05,135),(265.14,136),(265.26,143),(265.37,150),(265.46,146),(265.57,141),(265.69,143),(265.80,121),(265.92,122),(266.03,114),(266.15,114),(266.26,108),(266.35,99),(266.43,111),(266.55,97),(266.66,109),(266.78,112),(266.89,108),(266.98,101),(267.00,81)]

segments = [seg1, seg2, seg3, seg4, seg5, seg6, seg7, seg8, seg9, seg10, seg11, seg12]

# day and year lines of the date ticks (the year line is indented)
date_labels = ["31 Jul\n   2025", "14 Sep\n   2025", "28 Oct\n   2025", "12 Dec\n   2025",
               "25 Jan\n   2026", "10 Mar\n   2026", "24 Apr\n   2026"]
title = "A0150 MEAN WAVE DIRECTION (ALPHA 1) at depth 0m"

data = np.array([p for seg in segments for p in seg], dtype=float)
days = data[:, 0]
direction = data[:, 1]

mono = "DejaVu Sans Mono"

fig = plt.figure(figsize=(20, 11.25), dpi=200)
ax = fig.add_axes([0.1298, 0.1098, 0.7755, 0.8164])
ax.plot(days, direction, color="#0072BD", linewidth=0.55)

ax.set_xlim(days[0], days[-1])
ax.set_ylim(0, 350)
ax.set_yticks(np.arange(0, 351, 50))
ax.set_xticks(np.linspace(days[0], days[-1], len(date_labels)))
ax.set_xticklabels(date_labels, family=mono, fontsize=7.6, linespacing=1.38,
                   multialignment="left")
for lab in ax.get_yticklabels():
    lab.set_family(mono)
    lab.set_fontsize(7.6)

for side in ["top", "right"]:
    ax.spines[side].set_visible(False)
for side in ["left", "bottom"]:
    ax.spines[side].set_color("#262626")
    ax.spines[side].set_linewidth(0.6)
ax.tick_params(direction="in", length=11, width=0.6, color="#262626",
               labelcolor="#262626")
ax.tick_params(axis="x", pad=4)
ax.tick_params(axis="y", pad=2.2)

ax.set_title(title, family=mono, fontweight="bold", fontsize=11.2, pad=5.5)
ax.set_ylabel("degrees", fontsize=15)
ax.yaxis.set_label_coords(-0.017, 0.5)

fig.savefig("out.png", dpi=200)
